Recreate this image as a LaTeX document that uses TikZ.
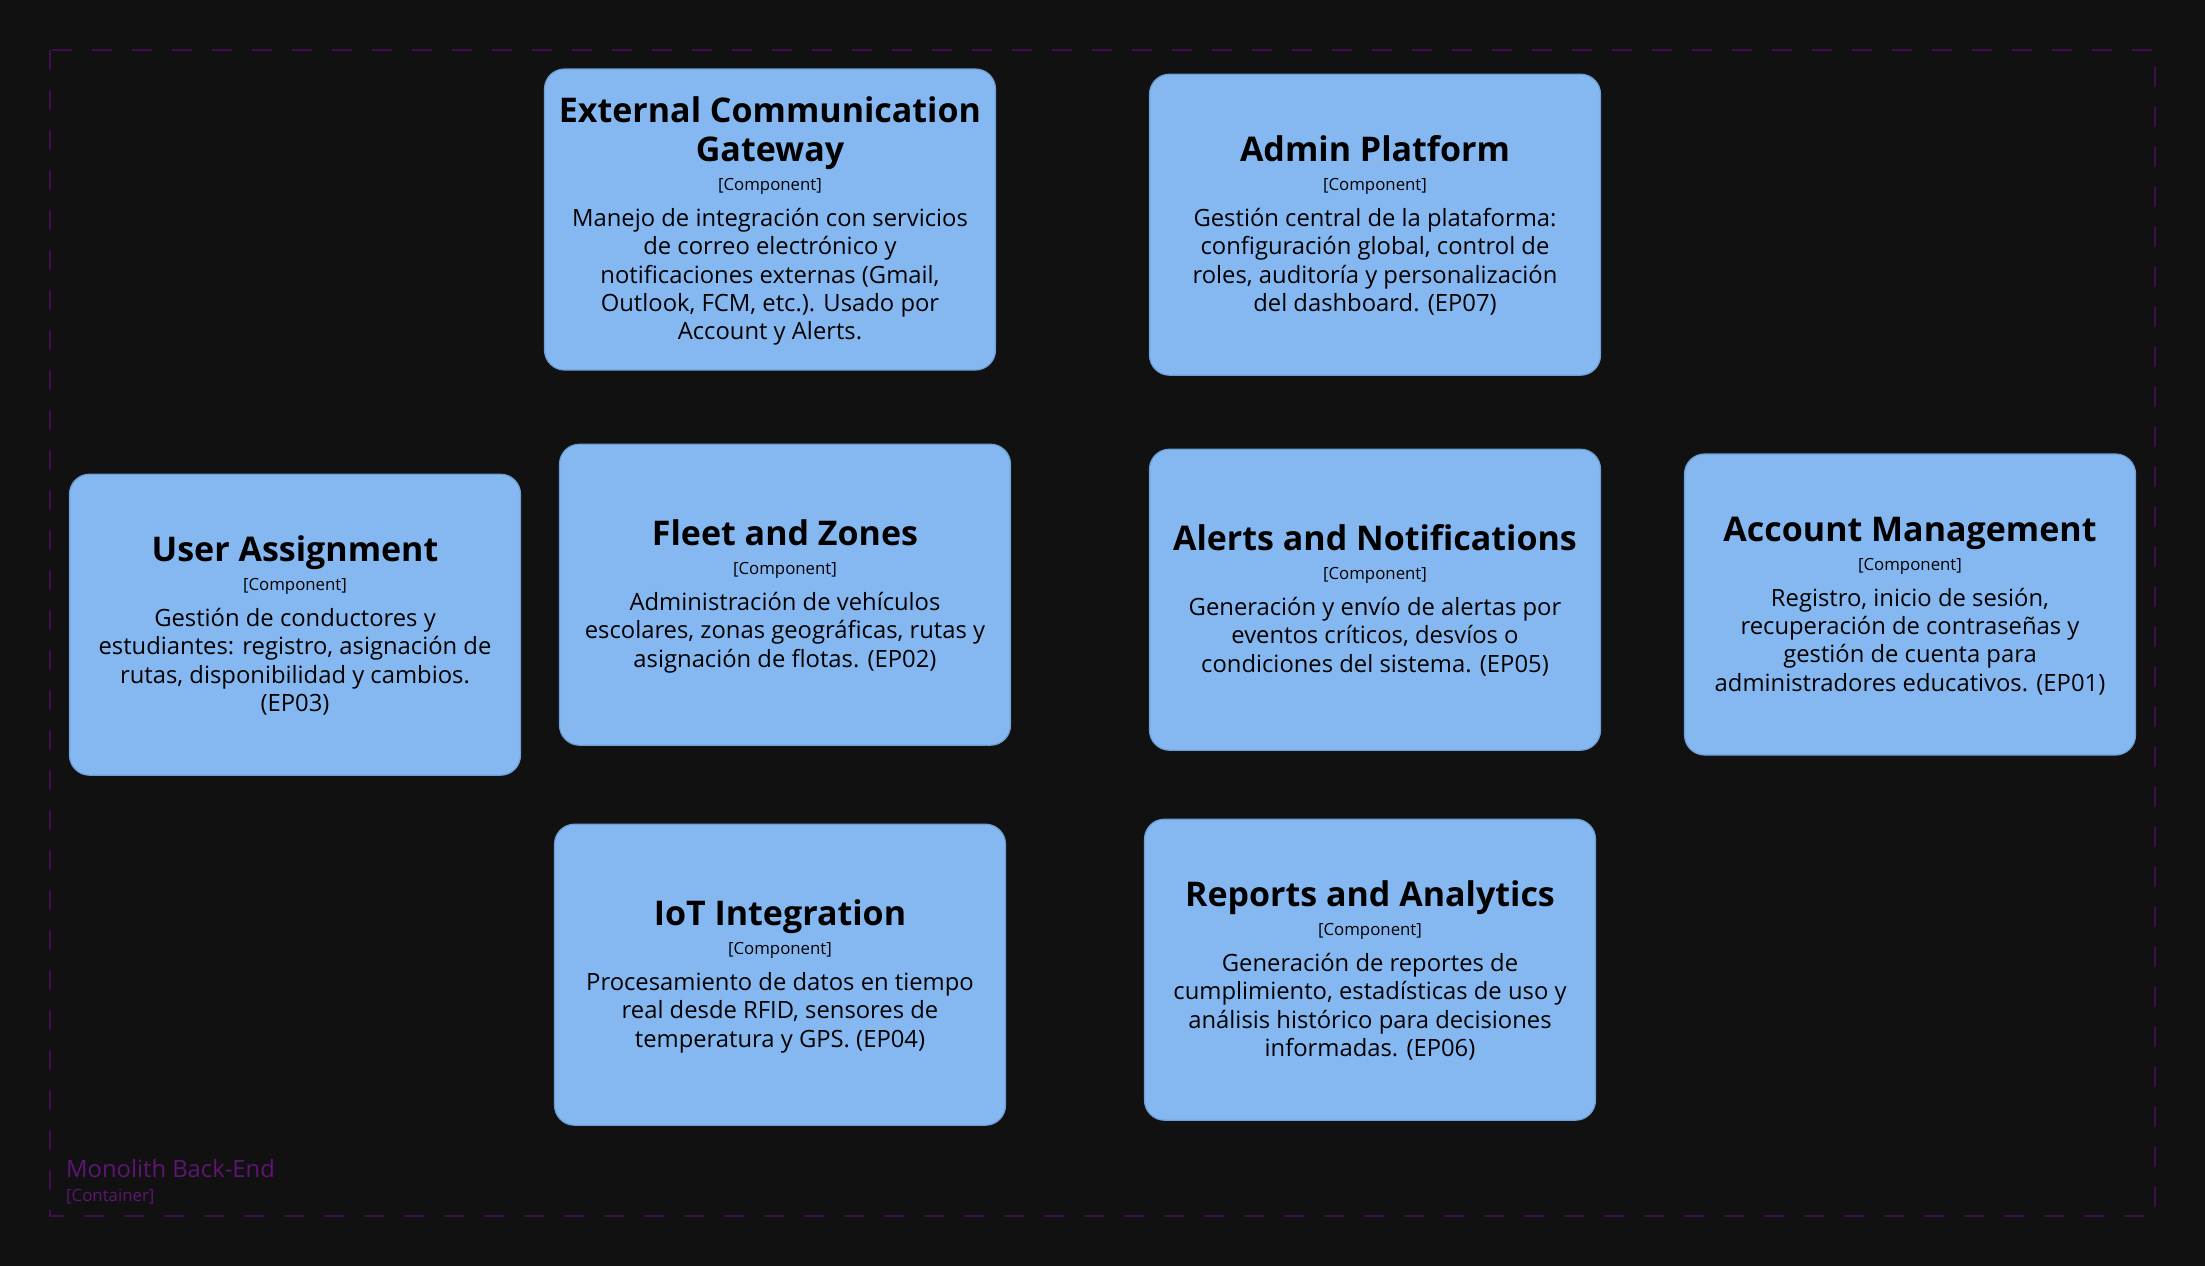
\documentclass[tikz,border=0pt]{standalone}
\usepackage{fontspec}
\setmainfont{Open Sans}
\definecolor{bgc}{HTML}{111111}
\definecolor{boxfill}{HTML}{85B8F0}
\definecolor{boxline}{HTML}{6E9FD6}
\definecolor{bnd}{HTML}{3E0F4C}
\definecolor{bndtxt}{HTML}{5E1573}
\tikzset{
  compbox/.style={draw=boxline, line width=1.2pt, fill=boxfill, rounded corners=20pt,
    minimum width=451pt, minimum height=301pt, inner sep=0pt},
  titletxt/.style={anchor=base, align=center, inner sep=0pt, text=black,
    font=\fontsize{34}{39}\bfseries\selectfont},
  stereo/.style={anchor=base, inner sep=0pt, text=black, font=\fontsize{16.8}{19}\selectfont},
  desc/.style={anchor=base, align=center, inner sep=0pt, text=black,
    font=\fontsize{23.8}{28.33}\selectfont},
}
% base anchor of a multi-line node = baseline of its last line
\newcommand\mkcomp[7]{%
  \node[compbox] (#1) at (#2,#3) {};
  \pgfmathsetmacro\cS{23.6+39*(#4-1)+29+35.7+28.33*(#6-1)}%
  \pgfmathsetmacro\cT{#3-\cS/2}%
  \pgfmathsetmacro\cA{\cT+23.6+39*(#4-1)}%
  \pgfmathsetmacro\cB{\cA+29}%
  \pgfmathsetmacro\cC{\cB+35.7+28.33*(#6-1)}%
  \node[titletxt] (#1-t) at (#2,\cA) {#5};
  \node[stereo] (#1-s) at (#2,\cB) {[Component]};
  \node[desc] (#1-d) at (#2,\cC) {#7};
}
\begin{document}
\begin{tikzpicture}[x=1pt,y=-1pt]
\fill[bgc] (0,0) rectangle (2205,1266);
\useasboundingbox (0,0) rectangle (2205,1266);
\draw[bnd, line width=1.3pt, dash pattern=on 20pt off 20pt] (50,50) rectangle (2155,1216);
\node[anchor=base west, inner sep=0pt, text=bndtxt, font=\fontsize{23.8}{27}\selectfont] (blabel) at (66,1177) {Monolith Back-End};
\node[anchor=base west, inner sep=0pt, text=bndtxt, font=\fontsize{16.8}{19}\selectfont] (bstereo) at (66,1201) {[Container]};

\mkcomp{ext}{770}{219.5}{2}{External Communication\\Gateway}{5}{Manejo de integración con servicios\\de correo electrónico y\\notificaciones externas (Gmail,\\Outlook, FCM, etc.). Usado por\\Account y Alerts.}
\mkcomp{admin}{1375}{224.7}{1}{Admin Platform}{4}{Gestión central de la plataforma:\\configuración global, control de\\roles, auditoría y personalización\\del dashboard. (EP07)}
\mkcomp{user}{295}{624.7}{1}{User Assignment}{4}{Gestión de conductores y\\estudiantes: registro, asignación de\\rutas, disponibilidad y cambios.\\(EP03)}
\mkcomp{fleet}{785}{594.7}{1}{Fleet and Zones}{3}{Administración de vehículos\\escolares, zonas geográficas, rutas y\\asignación de flotas. (EP02)}
\mkcomp{alerts}{1375}{599.7}{1}{Alerts and Notifications}{3}{Generación y envío de alertas por\\eventos críticos, desvíos o\\condiciones del sistema. (EP05)}
\mkcomp{account}{1910}{604.5}{1}{Account Management}{4}{Registro, inicio de sesión,\\recuperación de contraseñas y\\gestión de cuenta para\\administradores educativos. (EP01)}
\mkcomp{iot}{780}{974.7}{1}{IoT Integration}{3}{Procesamiento de datos en tiempo\\real desde RFID, sensores de\\temperatura y GPS. (EP04)}
\mkcomp{reports}{1370}{969.7}{1}{Reports and Analytics}{4}{Generación de reportes de\\cumplimiento, estadísticas de uso y\\análisis histórico para decisiones\\informadas. (EP06)}
\end{tikzpicture}
\end{document}
